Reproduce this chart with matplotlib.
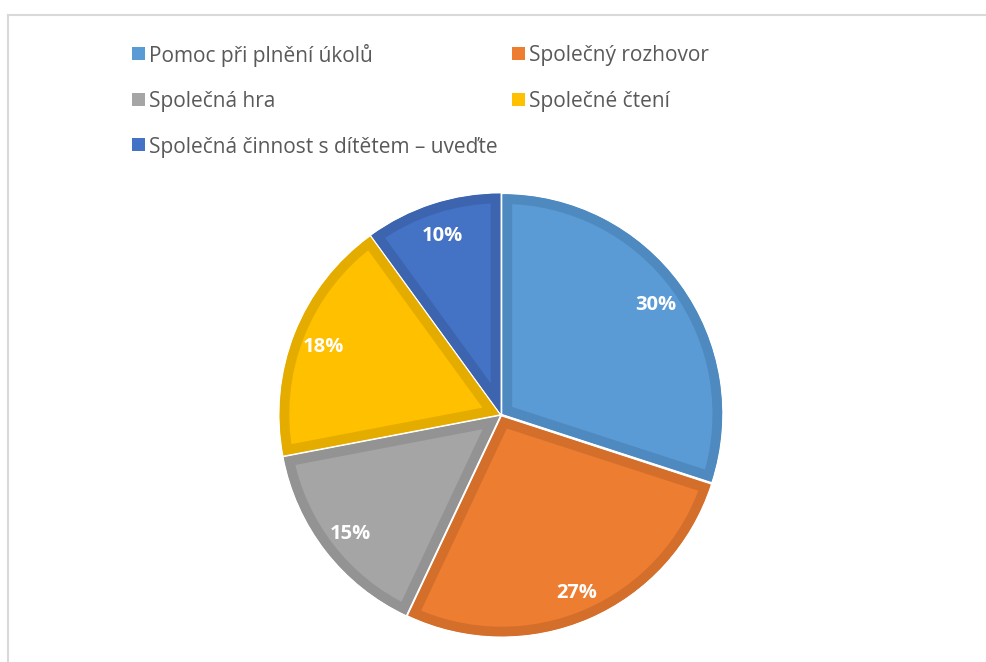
import matplotlib.pyplot as plt
from matplotlib.lines import Line2D

# Data
labels = ['Pomoc při plnění úkolů', 'Společný rozhovor', 'Společná hra',
          'Společné čtení', 'Společná činnost s dítětem – uveďte']
values = [30, 27, 15, 18, 10]
fills = ['#5B9BD5', '#ED7D31', '#A5A5A5', '#FFC000', '#4472C4']
edges = ['#4E89BF', '#D46F2B', '#939393', '#E5AC00', '#3D64AE']

plt.rcParams['font.family'] = ['Open Sans', 'DejaVu Sans']

fig = plt.figure(figsize=(9.87, 6.62), dpi=100)
W, H = 987, 662

# pie axes: centre ~(501, 415) px, radius ~222 px
cx, cy, r = 501, 415, 222
ax = fig.add_axes([(cx - r) / W, (H - cy - r) / H, 2 * r / W, 2 * r / H])

wedges, texts, autotexts = ax.pie(
    values, colors=fills, startangle=90, counterclock=False,
    explode=[0.008] * len(values), radius=0.99,
    autopct='%1.0f%%', pctdistance=0.86,
    textprops=dict(color='white', fontsize=14.5, fontweight='bold'))
for t in autotexts:
    t.set_va('center_baseline')

# inner stroke: thick edge clipped to its own wedge
for w, ec in zip(wedges, edges):
    w.set_edgecolor(ec)
    w.set_linewidth(14)
    w.set_joinstyle('miter')
    w.set_clip_on(True)
    w.set_clip_path(w)

ax.set_xlim(-1, 1)
ax.set_ylim(-1, 1)
ax.set_aspect('equal')
ax.axis('off')

# legend, two columns filled row by row
sq = 13
for i, (lab, col) in enumerate(zip(labels, fills)):
    x0 = [132, 512][i % 2]
    yc = 53 + 46 * (i // 2)
    fig.add_artist(plt.Rectangle((x0 / W, (H - yc - sq / 2) / H), sq / W, sq / H,
                                 facecolor=col, edgecolor='none'))
    fig.text((x0 + sq + 4) / W, (H - yc) / H, lab, fontsize=15, color='#595959',
             va='center_baseline', ha='left')

# chart frame (partially visible)
fig.add_artist(Line2D([8 / W, 1], [1 - 15 / H, 1 - 15 / H], color='#D9D9D9', lw=1.5))
fig.add_artist(Line2D([8 / W, 8 / W], [0, 1 - 15 / H], color='#D9D9D9', lw=1.5))

fig.savefig('out.png', dpi=100, facecolor='white')
